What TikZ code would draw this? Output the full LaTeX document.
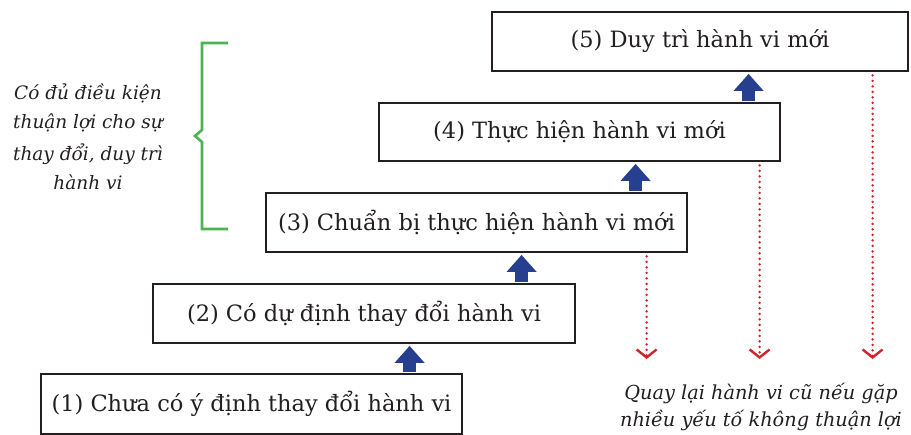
\documentclass[tikz,border=0pt]{standalone}
\usepackage{fontspec}
\setmainfont{DejaVu Serif}
\usetikzlibrary{arrows.meta,calc}
\definecolor{txt}{HTML}{231F20}
\definecolor{arrblue}{HTML}{263F8F}
\definecolor{dotred}{HTML}{D2232A}
\definecolor{brgreen}{HTML}{4DB252}
\tikzset{
  stagebox/.style={draw=txt, line width=2.8pt, fill=white, text=txt, inner sep=0pt,
    font=\fontsize{22.5}{27}\selectfont},
  uparrow/.style={arrblue, line width=13pt,
    -{Triangle[width=29pt,length=17pt]}},
  backline/.style={dotred, line width=2.6pt, line cap=round, dash pattern=on 0pt off 5.5pt,
    -{Straight Barb[length=8pt,width=20pt,line width=2.4pt]}},
  note/.style={text=txt, align=center, font=\itshape\fontsize{18.5}{0}\selectfont},
  bracket/.style={brgreen, line width=2.6pt}
}
\begin{document}
\begin{tikzpicture}[x=1pt,y=-1pt]
\useasboundingbox (0,0) rectangle (911,435);
% boxes
\node[stagebox, minimum width=416pt, minimum height=59pt] (b5) at (700,41.5) {(5) Duy trì hành vi mới};
\node[stagebox, minimum width=401pt, minimum height=58pt] (b4) at (579.5,132) {(4) Thực hiện hành vi mới};
\node[stagebox, minimum width=421pt, minimum height=59pt] (b3) at (476.5,222.5) {(3) Chuẩn bị thực hiện hành vi mới};
\node[stagebox, minimum width=422pt, minimum height=59pt] (b2) at (364,313.5) {(2) Có dự định thay đổi hành vi};
\node[stagebox, minimum width=421pt, minimum height=60pt] (b1) at (251.5,404) {(1) Chưa có ý định thay đổi hành vi};
% block arrows
\coordinate (a1) at ($(b1.north west)+(370,0)$);
\coordinate (a2) at ($(b2.north west)+(370,0)$);
\coordinate (a3) at ($(b3.north west)+(371,0)$);
\coordinate (a4) at ($(b4.north west)+(371,0)$);
\draw[uparrow] ($(a1)+(0,-1)$) -- ($(a1 |- b2.south)+(0,1.5)$);
\draw[uparrow] ($(a2)+(0,-1)$) -- ($(a2 |- b3.south)+(0,1.5)$);
\draw[uparrow] ($(a3)+(0,-1)$) -- ($(a3 |- b4.south)+(0,1.5)$);
\draw[uparrow] ($(a4)+(0,-1)$) -- ($(a4 |- b5.south)+(0,1.5)$);
% dotted return lines
\coordinate (r3) at ($(b3.south west)+(382,0)$);
\coordinate (r4) at ($(b4.south west)+(382,0)$);
\coordinate (r5) at ($(b5.south west)+(382,0)$);
\coordinate (e3) at (r3 |- 0,359);
\coordinate (e4) at (r4 |- 0,359);
\coordinate (e5) at (r5 |- 0,359);
\draw[backline] ($(r3)+(0,3)$) -- (e3);
\draw[backline] ($(r4)+(0,3)$) -- (e4);
\draw[backline] ($(r5)+(0,3)$) -- (e5);
% green bracket
\coordinate (g1) at (228,43);
\coordinate (g2) at (228,229);
\draw[bracket] (g1) -- (202,43) -- (202,130) -- (195,136) -- (202,142) -- (202,229) -- (g2);
% notes
\node[note] (left) at (88,137) {Có đủ điều kiện\\[10pt]thuận lợi cho sự\\[10pt]thay đổi, duy trì\\[10pt]hành vi};
\node[note, font=\itshape\fontsize{19.3}{0}\selectfont] (right) at (761,407) {Quay lại hành vi cũ nếu gặp\\[6pt]nhiều yếu tố không thuận lợi};
\end{tikzpicture}
\end{document}
